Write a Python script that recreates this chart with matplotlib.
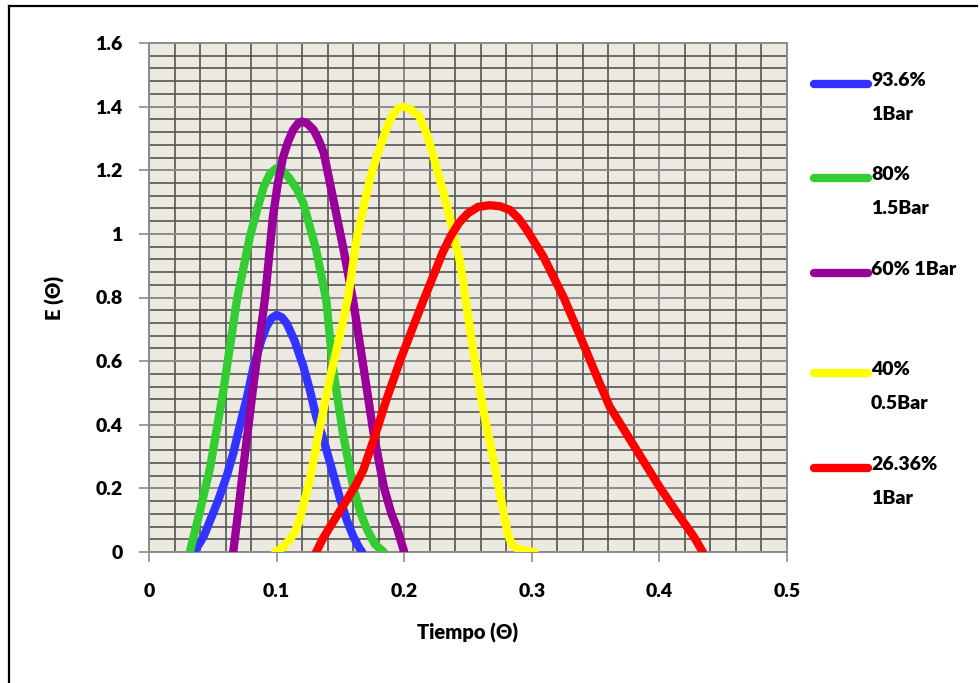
import matplotlib.pyplot as plt
from matplotlib.lines import Line2D
from matplotlib.ticker import MultipleLocator

plt.rcParams['font.family'] = ['Lato', 'DejaVu Sans']

# 93.6% 1Bar
x_blue = [0.033, 0.037, 0.043, 0.048, 0.054, 0.061, 0.066, 0.071, 0.077, 0.082,
          0.088, 0.092, 0.096, 0.100, 0.104, 0.108, 0.114, 0.121, 0.126, 0.131,
          0.137, 0.142, 0.150, 0.155, 0.160, 0.164, 0.167]
y_blue = [0.0, 0.01, 0.05, 0.10, 0.16, 0.24, 0.31, 0.394, 0.49, 0.583,
          0.665, 0.708, 0.735, 0.745, 0.738, 0.718, 0.665, 0.583, 0.51, 0.426,
          0.35, 0.279, 0.164, 0.10, 0.05, 0.018, 0.0]
# 80% 1.5Bar
x_green = [0.032, 0.040, 0.048, 0.058, 0.069, 0.079, 0.085, 0.090, 0.095, 0.100,
           0.105, 0.110, 0.116, 0.121, 0.131, 0.139, 0.144, 0.152, 0.160, 0.166,
           0.171, 0.177, 0.184]
y_green = [0.0, 0.13, 0.268, 0.50, 0.795, 0.99, 1.08, 1.149, 1.19, 1.207,
           1.198, 1.175, 1.14, 1.096, 0.95, 0.79, 0.583, 0.373, 0.205, 0.12,
           0.07, 0.025, 0.0]
# 60% 1Bar
x_purple = [0.066, 0.070, 0.074, 0.082, 0.091, 0.097, 0.101, 0.105, 0.109, 0.113,
            0.117, 0.120, 0.124, 0.129, 0.133, 0.137, 0.144, 0.152, 0.160, 0.168,
            0.176, 0.184, 0.190, 0.194, 0.200]
y_purple = [0.0, 0.13, 0.268, 0.53, 0.80, 1.05, 1.16, 1.24, 1.29, 1.327,
            1.348, 1.353, 1.347, 1.327, 1.295, 1.254, 1.117, 0.96, 0.79, 0.583,
            0.373, 0.205, 0.12, 0.08, 0.0]
# 40% 0.5Bar
x_yellow = [0.099, 0.105, 0.110, 0.114, 0.118, 0.126, 0.134, 0.142, 0.150, 0.156,
            0.163, 0.173, 0.179, 0.184, 0.188, 0.192, 0.196, 0.200, 0.205, 0.212,
            0.218, 0.223, 0.233, 0.244, 0.254, 0.262, 0.270, 0.278, 0.281, 0.284,
            0.288, 0.293, 0.302]
y_yellow = [0.0, 0.015, 0.038, 0.06, 0.10, 0.226, 0.394, 0.55, 0.688, 0.80,
            0.99, 1.17, 1.25, 1.306, 1.35, 1.38, 1.397, 1.40, 1.392, 1.369,
            1.31, 1.243, 1.096, 0.908, 0.635, 0.447, 0.289, 0.122, 0.06, 0.027,
            0.012, 0.006, 0.0]
# 26.36% 1Bar
x_red = [0.131, 0.136, 0.142, 0.149, 0.155, 0.162, 0.168, 0.176, 0.186, 0.197,
         0.207, 0.215, 0.223, 0.230, 0.236, 0.243, 0.250, 0.258, 0.267, 0.275,
         0.283, 0.290, 0.296, 0.309, 0.325, 0.338, 0.351, 0.361, 0.374, 0.387,
         0.400, 0.414, 0.427, 0.434]
y_red = [0.0, 0.04, 0.08, 0.125, 0.164, 0.21, 0.258, 0.352, 0.478, 0.604,
         0.708, 0.79, 0.87, 0.94, 0.99, 1.035, 1.065, 1.085, 1.09, 1.087,
         1.075, 1.047, 1.013, 0.929, 0.80, 0.677, 0.551, 0.457, 0.373, 0.289,
         0.205, 0.122, 0.048, 0.0]

series = [
    (x_blue, y_blue, '#3333FF', '93.6%\n1Bar'),
    (x_green, y_green, '#33CC33', '80%\n1.5Bar'),
    (x_purple, y_purple, '#990099', '60% 1Bar'),
    (x_yellow, y_yellow, '#FFFF00', '40%\n0.5Bar'),
    (x_red, y_red, '#FF0000', '26.36%\n1Bar'),
]

fig = plt.figure(figsize=(9.8, 6.83), dpi=100)
ax = fig.add_axes([149 / 980, 131 / 683, 638 / 980, 509 / 683])
ax.set_facecolor('#ECEAE0')

ax.set_xlim(0, 0.5)
ax.set_ylim(0, 1.6)
ax.xaxis.set_major_locator(MultipleLocator(0.1))
ax.xaxis.set_minor_locator(MultipleLocator(0.02))
ax.yaxis.set_major_locator(MultipleLocator(0.2))
ax.yaxis.set_minor_locator(MultipleLocator(0.04))
ax.grid(which='minor', color='#555555', linewidth=1.2, zorder=0)
ax.grid(which='major', color='#8C8C8C', linewidth=1.4, zorder=0)
ax.set_axisbelow(True)
ax.tick_params(which='minor', length=0)
ax.tick_params(which='major', length=7, color='#8C8C8C', width=1.2, pad=12,
               labelsize=14)
ax.tick_params(axis='x', pad=15)
ax.set_xticks([0, 0.1, 0.2, 0.3, 0.4, 0.5])
ax.set_xticklabels(['0', '0.1', '0.2', '0.3', '0.4', '0.5'], fontweight='heavy')
ax.set_yticks([0, 0.2, 0.4, 0.6, 0.8, 1.0, 1.2, 1.4, 1.6])
ax.set_yticklabels(['0', '0.2', '0.4', '0.6', '0.8', '1', '1.2', '1.4', '1.6'],
                   fontweight='heavy')
for s in ax.spines.values():
    s.set_color('#8C8C8C')
    s.set_linewidth(1.4)

for xs, ys, c, lab in series:
    ax.plot(xs, ys, color=c, linewidth=6, solid_capstyle='round',
            solid_joinstyle='round', zorder=3)

ax.set_xlabel('Tiempo (Θ)', fontsize=14.5, fontweight='heavy', labelpad=17)
ax.set_ylabel('E (Θ)', fontsize=14.5, fontweight='heavy', labelpad=22)

# legend at right
leg_y = [84, 178, 273, 373, 468]
for (xs, ys, c, lab), yp in zip(series, leg_y):
    yf = 1 - yp / 683
    fig.add_artist(Line2D([814 / 980, 868 / 980], [yf, yf], color=c,
                          linewidth=6, solid_capstyle='round'))
    fig.text(871 / 980, yf + 12 / 683, lab, fontsize=14, fontweight='heavy',
             va='top', ha='left', linespacing=2.2)

# outer frame
fig.add_artist(Line2D([9 / 980, 9 / 980], [0, 1 - 6 / 683], color='black', linewidth=1.6))
fig.add_artist(Line2D([9 / 980, 977 / 980], [1 - 6 / 683, 1 - 6 / 683], color='black', linewidth=1.6))

fig.savefig('out.png', dpi=100)
